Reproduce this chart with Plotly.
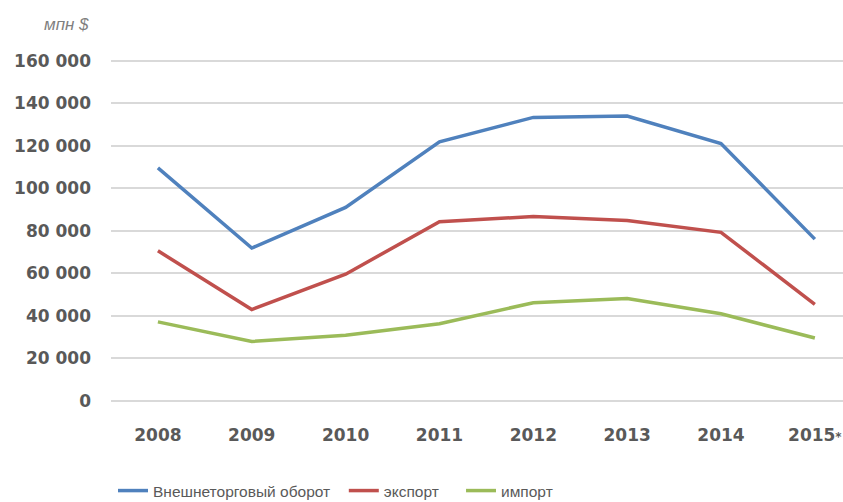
import plotly.graph_objects as go

years = ["2008", "2009", "2010", "2011", "2012", "2013", "2014", "2015*"]
year_labels = ["2008", "2009", "2010", "2011", "2012", "2013", "2014",
               "2015<span style='font-size:12px'>*</span>"]
turnover = [109600, 71900, 91000, 121800, 133300, 134000, 121000, 76100]
export = [70600, 43000, 59600, 84300, 86700, 84800, 79300, 45400]
imports = [37200, 28000, 30900, 36300, 46200, 48200, 41000, 29600]
y_ticks = [0, 20000, 40000, 60000, 80000, 100000, 120000, 140000, 160000]
y_labels = ["0", "20 000", "40 000", "60 000", "80 000", "100 000", "120 000", "140 000", "160 000"]

series = [
    ("Внешнеторговый оборот\u00a0\u00a0", turnover, "#4f81bd"),
    ("экспорт\u00a0\u00a0\u00a0\u00a0", export, "#c0504d"),
    ("импорт", imports, "#9bbb59"),
]

W, H = 843, 502
fig = go.Figure()
for name, vals, color in series:
    fig.add_trace(go.Scatter(x=years, y=vals, name=name, mode="lines",
                             line=dict(color=color, width=3.5)))

fig.update_layout(
    width=W, height=H,
    margin=dict(l=111, r=0, t=50, b=101),
    plot_bgcolor="white", paper_bgcolor="white",
    showlegend=True,
    legend=dict(orientation="h", xref="container", x=113 / W, xanchor="left",
                yref="container", y=(H - 491) / H, yanchor="middle",
                font=dict(family="Liberation Sans", size=15.5, color="#595959"),
                tracegroupgap=0, bgcolor="rgba(0,0,0,0)"),
    xaxis=dict(type="category", range=[-0.5, 7.3], showgrid=False, showline=False,
               tickvals=years, ticktext=year_labels,
               ticks="", ticklabelstandoff=22, automargin=False,
               tickfont=dict(family="DejaVu Sans", size=17, color="#595959", weight="bold")),
    yaxis=dict(range=[0, 165000], tickvals=y_ticks, ticktext=y_labels,
               showgrid=True, gridcolor="#d9d9d9", gridwidth=1.5,
               zeroline=True, zerolinecolor="#d9d9d9", zerolinewidth=1.5,
               showline=False, ticks="", ticklabelstandoff=19, automargin=False,
               tickfont=dict(family="DejaVu Sans", size=17, color="#595959", weight="bold")),
    annotations=[dict(text="<i>мпн $</i>", xref="paper", yref="paper",
                      x=-20 / 732, y=(401 - 25) / 351,
                      xanchor="right", yanchor="middle", showarrow=False,
                      font=dict(family="Liberation Sans", size=17, color="#7f7f7f"))],
)

fig.write_html("out.html", config={"displayModeBar": False},
               post_script="document.body.style.margin='0';")
